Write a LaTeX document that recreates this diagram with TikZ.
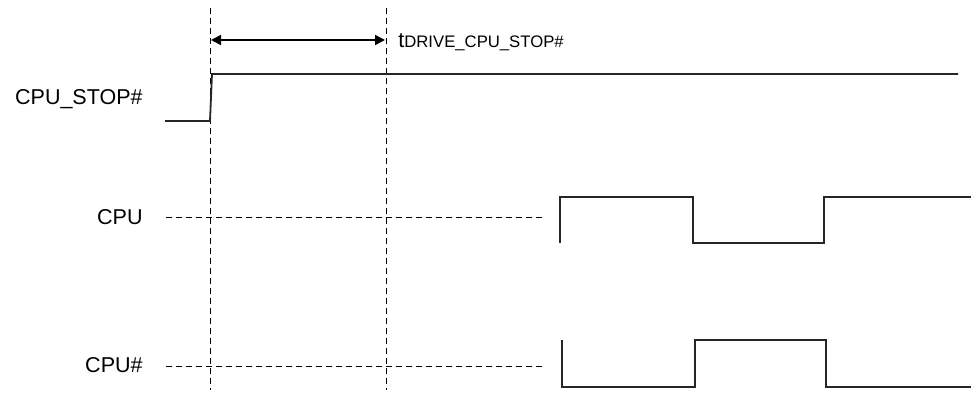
\documentclass[tikz,border=0pt]{standalone}
\usepackage{fontspec}
\setmainfont{Liberation Sans}
\usetikzlibrary{arrows.meta, positioning}

\tikzset{
    wave/.style={line width=0.9pt, color=black!85},
    guide/.style={line width=0.45pt, dash pattern=on 3pt off 2pt},
    siglabel/.style={anchor=east, inner sep=0pt, font=\fontsize{10.75}{12}\selectfont}
}

\begin{document}
\begin{tikzpicture}[x=0.5pt, y=0.5pt]
                        \useasboundingbox (0, 0) rectangle (971, 396);
                        % timing markers
                        \coordinate (mAtop) at (210, 388);
                        \coordinate (mAbot) at (210, 6);
                        \coordinate (mBtop) at (386, 388);
                        \coordinate (mBbot) at (386, 6);
                        \draw[guide] (mAtop) -- (mAbot);
                        \draw[guide] (mBtop) -- (mBbot);
                        \coordinate (arrA) at (211, 356);
                        \coordinate (arrB) at (385, 356);
                        \draw[line width=0.9pt, {Triangle[length=5pt, width=5pt]}-{Triangle[length=5pt, width=5pt]}] (arrA) -- (arrB);
                        \node[anchor=base west, inner sep=0pt] (tdrive) at (398, 348)
                            {\fontsize{10.75}{12}\selectfont t\fontsize{8.35}{10}\selectfont DRIVE\_CPU\_STOP\#};
                        % signal names
                        \node[siglabel] (lstop) at (143, 297) {CPU\_STOP\#};
                        \node[siglabel] (lcpu) at (143, 179) {CPU};
                        \node[siglabel] (lcpun) at (143, 31) {CPU\#};
                        % CPU_STOP#
                        \draw[wave] (165, 275) -- (210, 275) -- (212, 322) -- (958, 322);
                        % CPU
                        \draw[guide] (166, 179) -- (543, 179);
                        \draw[wave] (560, 153) -- (560, 199) -- (693, 199) -- (693, 153)
                            -- (824, 153) -- (824, 199) -- (971, 199);
                        % CPU#
                        \draw[guide] (166, 30) -- (543, 30);
                        \draw[wave] (562, 56) -- (562, 9) -- (695, 9) -- (695, 56)
                            -- (826, 56) -- (826, 9) -- (971, 9);
                    \end{tikzpicture}
\end{document}
